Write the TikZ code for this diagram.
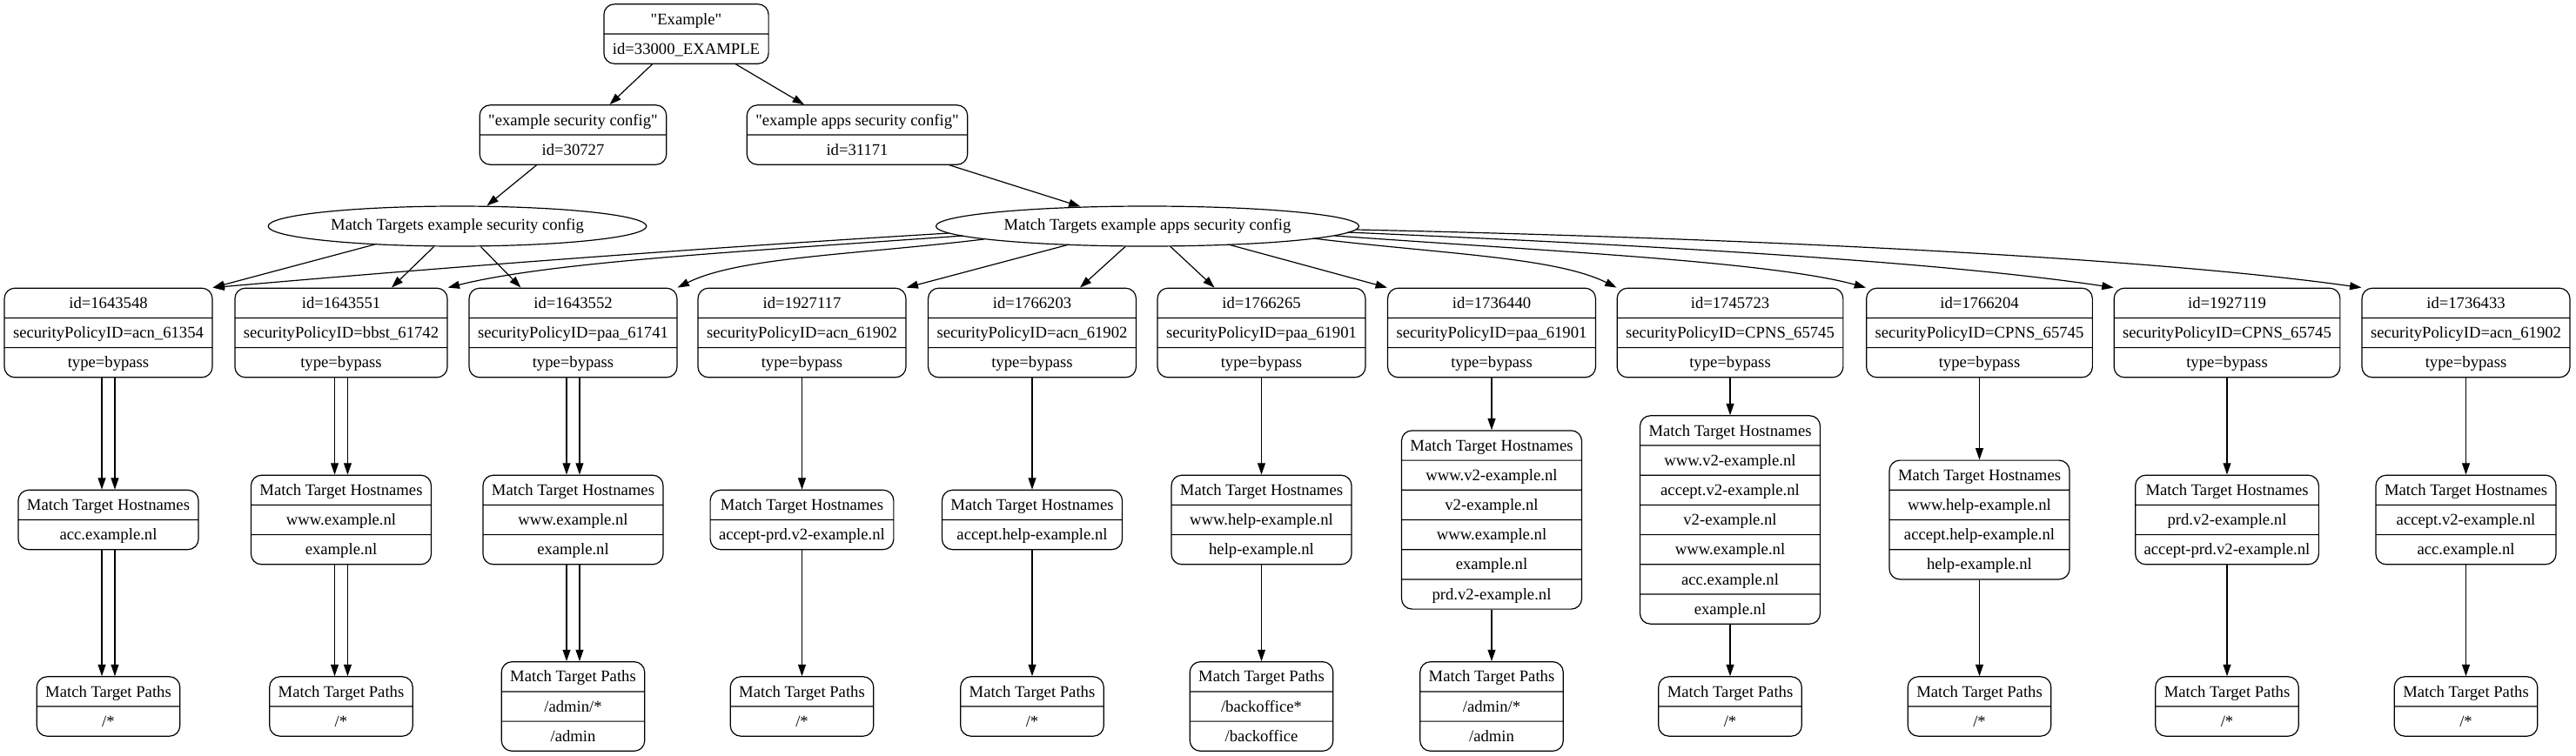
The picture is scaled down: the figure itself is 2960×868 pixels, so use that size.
\documentclass[tikz,border=0pt]{standalone}
\usepackage{fontspec}
\setmainfont{Liberation Serif}[Ligatures=TeXOff]
\usetikzlibrary{shapes.multipart,shapes.geometric,arrows.meta,calc}
\tikzstyle{rec}=[rectangle split, draw, rounded corners=9pt, inner xsep=7.5pt, inner ysep=0pt, line width=0.9pt]
\tikzstyle{mt}=[ellipse, draw, inner sep=0pt, minimum height=34.5pt, line width=0.9pt]
\tikzstyle{edge}=[-{Triangle[length=10pt,width=6.7pt]}, line width=0.9pt]
\newcommand{\recnode}{\node[rec]}
\newcommand{\rw}[1]{\rule[-7.75pt]{0pt}{24.75pt}#1}

\begin{document}
\begin{tikzpicture}[x=0.75pt,y=-0.75pt,font=\fontsize{14}{17}\selectfont]
\useasboundingbox (0,0) rectangle (2960,868);
% top of the tree
\recnode (root) at (788.5,39) [rectangle split parts=2] {\rw{"Example"}\nodepart{two}\rw{id=33000\_EXAMPLE}};
\recnode (esc) at (658.5,155) [rectangle split parts=2] {\rw{"example security config"}\nodepart{two}\rw{id=30727}};
\recnode (easc) at (985,155) [rectangle split parts=2] {\rw{"example apps security config"}\nodepart{two}\rw{id=31171}};
\node[mt, minimum width=326pt] (mt1) at (525.5,260) {Match Targets example security config};
\node[mt, minimum width=364.5pt] (mt2) at (1318.5,260) {Match Targets example apps security config};

% match targets
\foreach \x/\n/\id/\pol in {124.5/1/1643548/acn\_61354, 392/2/1643551/bbst\_61742, 658.5/3/1643552/paa\_61741,
	921.5/4/1927117/acn\_61902, 1186/5/1766203/acn\_61902, 1449.5/6/1766265/paa\_61901,
	1714/7/1736440/paa\_61901, 1988/8/1745723/CPNS\_65745, 2274.5/9/1766204/CPNS\_65745,
	2559/10/1927119/CPNS\_65745, 2833.5/11/1736433/acn\_61902}{
	\recnode (b\n) at (\x,382.5) [rectangle split parts=3] {\rw{id=\id}\nodepart{two}\rw{securityPolicyID=\pol}\nodepart{three}\rw{type=bypass}};
	}

% hostnames
\recnode (h1) at (124.5,597.5) [rectangle split parts=2] {\rw{Match Target Hostnames}\nodepart{two}\rw{acc.example.nl}};
\recnode (h2) at (392,597.5) [rectangle split parts=3] {\rw{Match Target Hostnames}\nodepart{two}\rw{www.example.nl}\nodepart{three}\rw{example.nl}};
\recnode (h3) at (658.5,597.5) [rectangle split parts=3] {\rw{Match Target Hostnames}\nodepart{two}\rw{www.example.nl}\nodepart{three}\rw{example.nl}};
\recnode (h4) at (921.5,597.5) [rectangle split parts=2] {\rw{Match Target Hostnames}\nodepart{two}\rw{accept-prd.v2-example.nl}};
\recnode (h5) at (1186,597.5) [rectangle split parts=2] {\rw{Match Target Hostnames}\nodepart{two}\rw{accept.help-example.nl}};
\recnode (h6) at (1449.5,597.5) [rectangle split parts=3] {\rw{Match Target Hostnames}\nodepart{two}\rw{www.help-example.nl}\nodepart{three}\rw{help-example.nl}};
\recnode (h7) at (1714,597.5) [rectangle split parts=6] {\rw{Match Target Hostnames}\nodepart{two}\rw{www.v2-example.nl}\nodepart{three}\rw{v2-example.nl}\nodepart{four}\rw{www.example.nl}\nodepart{five}\rw{example.nl}\nodepart{six}\rw{prd.v2-example.nl}};
\recnode (h8) at (1988,597.5) [rectangle split parts=7] {\rw{Match Target Hostnames}\nodepart{two}\rw{www.v2-example.nl}\nodepart{three}\rw{accept.v2-example.nl}\nodepart{four}\rw{v2-example.nl}\nodepart{five}\rw{www.example.nl}\nodepart{six}\rw{acc.example.nl}\nodepart{seven}\rw{example.nl}};
\recnode (h9) at (2274.5,597.5) [rectangle split parts=4] {\rw{Match Target Hostnames}\nodepart{two}\rw{www.help-example.nl}\nodepart{three}\rw{accept.help-example.nl}\nodepart{four}\rw{help-example.nl}};
\recnode (h10) at (2559,597.5) [rectangle split parts=3] {\rw{Match Target Hostnames}\nodepart{two}\rw{prd.v2-example.nl}\nodepart{three}\rw{accept-prd.v2-example.nl}};
\recnode (h11) at (2833.5,597.5) [rectangle split parts=3] {\rw{Match Target Hostnames}\nodepart{two}\rw{accept.v2-example.nl}\nodepart{three}\rw{acc.example.nl}};

% paths
\foreach \x/\n in {124.5/1, 392/2, 921.5/4, 1186/5, 1988/8, 2274.5/9, 2559/10, 2833.5/11}{
	\recnode (p\n) at (\x,812) [rectangle split parts=2] {\rw{Match Target Paths}\nodepart{two}\rw{/*}};
	}
\recnode (p3) at (658.5,812) [rectangle split parts=3] {\rw{Match Target Paths}\nodepart{two}\rw{/admin/*}\nodepart{three}\rw{/admin}};
\recnode (p6) at (1449.5,812) [rectangle split parts=3] {\rw{Match Target Paths}\nodepart{two}\rw{/backoffice*}\nodepart{three}\rw{/backoffice}};
\recnode (p7) at (1714,812) [rectangle split parts=3] {\rw{Match Target Paths}\nodepart{two}\rw{/admin/*}\nodepart{three}\rw{/admin}};

% edges
\draw[edge] ($(root.south)+(-39,0)$) -- ($(esc.north)+(42,0)$);
\draw[edge] ($(root.south)+(57,0)$) -- ($(easc.north)+(-61,0)$);
\draw[edge] ($(esc.south)+(-42,0)$) -- ($(mt1.north)+(34,0)$);
\draw[edge] ($(easc.south)+(106,0)$) -- ($(mt2.north)+(-77,1)$);
\draw[edge] ($(mt1.center)+(-95,21)$) -- (b1.north east);
\draw[edge] ($(mt1.south)+(-27,0)$) -- ($(b2.north)+(58,0)$);
\draw[edge] ($(mt1.south)+(27,0)$) -- ($(b3.north)+(-60,0)$);
\draw[edge] ($(mt2.center)+(-228,8)$) .. controls +(-300,18) and +(250,-22) .. (b1.north east);
\draw[edge] ($(mt2.center)+(-212,11)$) .. controls +(-250,18) and +(120,-30) .. (b2.north east);
\draw[edge] ($(mt2.center)+(-188,15)$) .. controls +(-150,18) and +(70,-35) .. (b3.north east);
\draw[edge] ($(mt2.center)+(-90,21)$) -- (b4.north east);
\draw[edge] ($(mt2.center)+(-25,23)$) -- ($(b5.north)+(55,0)$);
\draw[edge] ($(mt2.center)+(26,23)$) -- ($(b6.north)+(-54,0)$);
\draw[edge] ($(mt2.center)+(93,21)$) -- (b7.north west);
\draw[edge] ($(mt2.center)+(190,14)$) .. controls +(150,18) and +(-70,-35) .. (b8.north west);
\draw[edge] ($(mt2.center)+(215,11)$) .. controls +(250,18) and +(-110,-30) .. (b9.north west);
\draw[edge] ($(mt2.center)+(230,7)$) .. controls +(350,15) and +(-200,-30) .. (b10.north west);
\draw[edge] ($(mt2.center)+(240,4)$) .. controls +(450,10) and +(-250,-35) .. (b11.north west);
\foreach \i in {1,2,3}{
	\draw[edge] ([xshift=-5.6pt]b\i.south) -- ([xshift=-5.6pt]h\i.north);
	\draw[edge] ([xshift=5.6pt]b\i.south) -- ([xshift=5.6pt]h\i.north);
	\draw[edge] ([xshift=-5.6pt]h\i.south) -- ([xshift=-5.6pt]p\i.north);
	\draw[edge] ([xshift=5.6pt]h\i.south) -- ([xshift=5.6pt]p\i.north);
	}
\foreach \i in {4,...,11}{
	\draw[edge] (b\i) -- (h\i);
	\draw[edge] (h\i) -- (p\i);
	}
\end{tikzpicture}
\end{document}
